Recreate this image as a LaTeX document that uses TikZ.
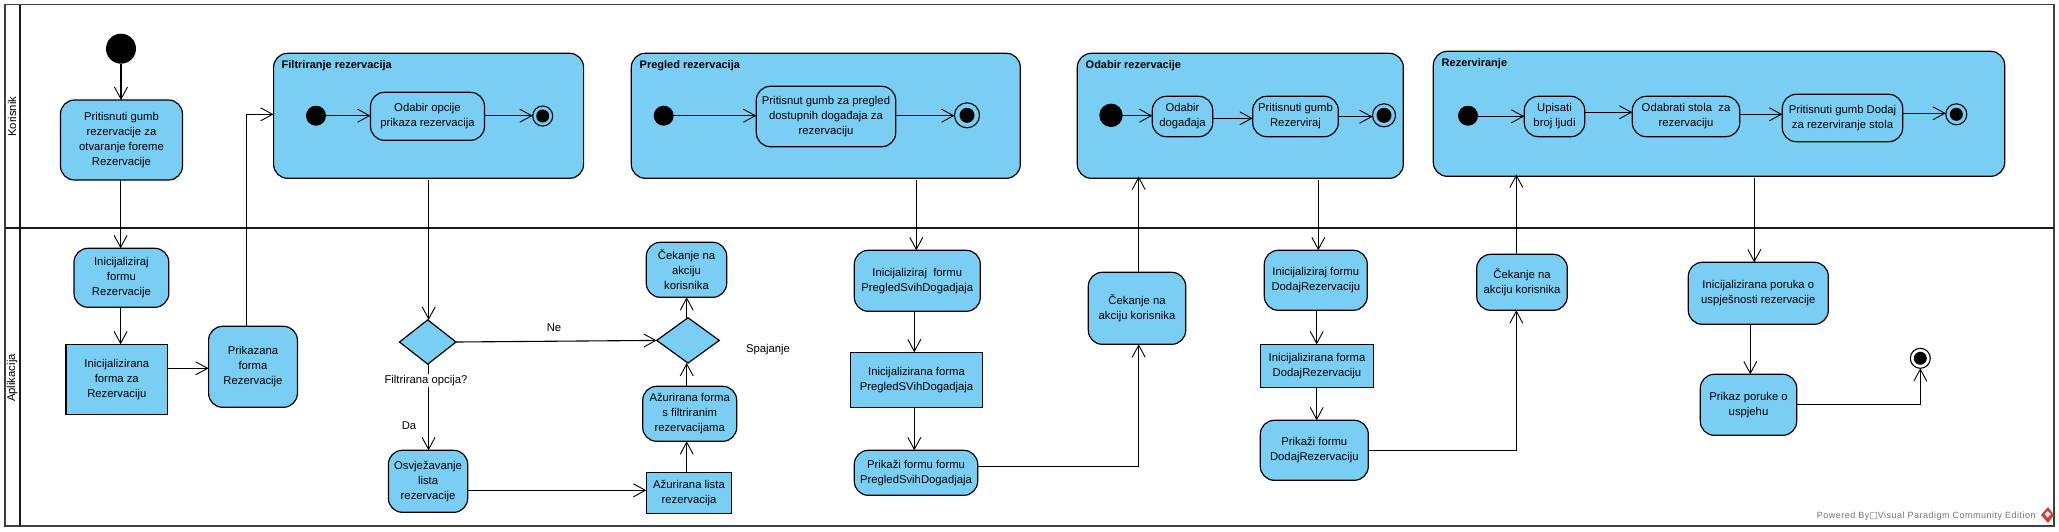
\documentclass[tikz,border=0pt]{standalone}
\usepackage{fontspec}
\setmainfont{Liberation Sans}
\newfontfamily\boxglyph{DejaVu Sans}
\usetikzlibrary{arrows.meta,shapes.geometric,calc}
\definecolor{vpblue}{RGB}{122,206,244}
\definecolor{vpred}{RGB}{205,60,55}
\tikzset{
  lbl/.style={font=\fontsize{11.3}{15}\selectfont,align=center,inner sep=0pt,outer sep=0pt},
  actbox/.style={lbl,draw=black,fill=vpblue,line width=1.2pt,rounded corners=14pt},
  objbox/.style={lbl,draw=black,fill=vpblue,line width=1.2pt},
  groupbox/.style={draw=black,fill=vpblue,line width=1.2pt,rounded corners=14pt,inner sep=0pt,outer sep=0pt},
  grouptitle/.style={font=\fontsize{11}{14}\selectfont\bfseries,inner sep=0pt,outer sep=0pt,anchor=west},
  flow/.style={draw=black,line width=1.1pt,-{Straight Barb[length=12pt,width=13pt,line width=0.9pt]}},
  choice/.style={diamond,draw=black,fill=vpblue,line width=1.2pt,inner sep=0pt,outer sep=0pt,aspect=1.3},
  startdot/.style={circle,fill=black,inner sep=0pt,outer sep=0pt},
  endring/.style={circle,draw=black,line width=1.1pt,inner sep=0pt,outer sep=0pt},
  enddot/.style={circle,fill=black,inner sep=0pt,outer sep=0pt},
  lane/.style={lbl,rotate=90},
}
\newcommand\placebox[7]{\node[#1,minimum width={#5pt-#3pt},minimum height={#6pt-#4pt}] (#2) at ({(#3+#5)/2},{(#4+#6)/2}) {#7};}
\newcommand\placedot[4]{\node[startdot,minimum size={2*#4 pt}] (#1) at (#2,#3) {};}
\newcommand\placeend[5]{\node[endring,minimum size={2*#4 pt}] (#1) at (#2,#3) {};\node[enddot,minimum size={2*#5 pt}] (#1-in) at (#2,#3) {};}
\newcommand\flowdn[5]{\draw[flow] ([shift={(#2,#3)}]#1.south) -- ([shift={(#2,#5)}]#1.south |- #4.north);}
\newcommand\flowup[5]{\draw[flow] ([shift={(#2,#3)}]#1.north) -- ([shift={(#2,#5)}]#1.north |- #4.south);}
\newcommand\flowrt[3]{\draw[flow] ([shift={(0,#2)}]#1.east) -- ([shift={(0,#2)}]#1.east -| #3.west);}
\begin{document}
\begin{tikzpicture}[x=1pt,y=-1pt]
\path[use as bounding box,fill=white] (0,0) rectangle (2059,531);
% swimlanes
\draw[line width=1.6pt,draw=black!75] (5,4.5) rectangle (2054,526);
\draw[line width=2pt,draw=black!90] (5,228) -- (2054,228);
\draw[line width=2pt,draw=black!90] (20,4.5) -- (20,526);
\node[lane] (laneA) at (12.2,116.7) {Korisnik};
\node[lane] (laneB) at (12.2,378) {Aplikacija};
% group boxes
\placebox{groupbox}{gFilter}{273.6}{53.3}{583.6}{178.3}{}
\placebox{groupbox}{gPregled}{631.3}{53.3}{1020.3}{178.3}{}
\placebox{groupbox}{gOdabir}{1077.3}{53.3}{1403.3}{178.3}{}
\placebox{groupbox}{gRez}{1433.3}{51.3}{2004.7}{176.3}{}
\node[grouptitle] (tFilter) at (281.7,66) {Filtriranje rezervacija};
\node[grouptitle] (tPregled) at (639.7,66) {Pregled rezervacija};
\node[grouptitle] (tOdabir) at (1085.7,66) {Odabir rezervacije};
\node[grouptitle] (tRez) at (1441.7,64) {Rezerviranje};
% initial / final
\placedot{s0}{121}{48.7}{15}
\placedot{s1}{316}{115.7}{10}
\placeend{e1}{542.7}{116}{10}{6.5}
\placedot{s2}{663.7}{115.7}{10}
\placeend{e2}{967}{115.3}{12.5}{7.5}
\placedot{s3}{1111}{115.3}{11.7}
\placeend{e3}{1384}{115.3}{11.5}{7.5}
\placedot{s4}{1468}{115.7}{10}
\placeend{e4}{1956.3}{114.3}{10.5}{6.5}
\placeend{e5}{1920.3}{358.3}{10}{6.5}
% korisnik actions
\placebox{actbox}{a1}{60.5}{100}{182.5}{180}{Pritisnuti gumb\\rezervacije za\\otvaranje foreme\\Rezervacije}
\placebox{actbox}{f1}{370.5}{92.3}{484.5}{140.3}{Odabir opcije\\prikaza rezervacija}
\placebox{actbox}{p1}{756.3}{86.3}{895.7}{146.7}{Pritisnut gumb za pregled\\dostupnih događaja za\\rezervaciju}
\placebox{actbox}{o1}{1152.3}{96.3}{1212.7}{136.7}{Odabir\\događaja}
\placebox{actbox}{o2}{1252.7}{96.3}{1338.3}{136.7}{Pritisnuti gumb\\Rezerviraj}
\placebox{actbox}{r1}{1524.3}{96.3}{1584.7}{136.7}{Upisati\\broj ljudi}
\placebox{actbox}{r2}{1632.3}{96.3}{1739.7}{136.7}{Odabrati stola~ za\\rezervaciju}
\placebox{actbox}{r3}{1782.3}{94.3}{1902.7}{141.7}{Pritisnuti gumb Dodaj\\za rezerviranje stola}
% aplikacija
\placebox{actbox}{b1}{74}{248.3}{168.8}{307.3}{Inicijaliziraj\\formu\\Rezervacije}
\placebox{objbox}{b2}{66}{344.3}{167.6}{414.3}{Inicijalizirana\\forma za\\Rezervaciju}
\placebox{actbox}{b3}{208.6}{326.3}{297.4}{407.3}{Prikazana\\forma\\Rezervacije}
\node[choice,minimum width=56.5pt,minimum height=44.3pt] (d1) at (427.75,342) {};
\placebox{actbox}{b4}{388.4}{450.3}{467.7}{512.3}{Osvježavanje\\lista\\rezervacije}
\placebox{objbox}{b5}{646.3}{472.3}{731.7}{513.3}{Ažurirana lista\\rezervacija}
\placebox{actbox}{b6}{642.7}{386.3}{736.7}{441.3}{Ažurirana forma\\s filtriranim\\rezervacijama}
\node[choice,minimum width=62.6pt,minimum height=45.3pt] (d2) at (688,340.4) {};
\placebox{actbox}{b7}{646.3}{242.3}{726.7}{297.3}{Čekanje na\\akciju\\korisnika}
\placebox{actbox}{c1}{854.3}{250.3}{980.3}{311.3}{Inicijaliziraj~ formu\\PregledSvihDogadjaja}
\placebox{objbox}{c2}{850.3}{352.3}{982.7}{407.3}{Inicijalizirana forma\\PregledSVihDogadjaja}
\placebox{actbox}{c3}{854.3}{450.3}{977.7}{495.3}{Prikaži formu formu\\PregledSvihDogadjaja}
\placebox{actbox}{c4}{1088.3}{272.3}{1185.7}{344.3}{Čekanje na\\akciju korisnika}
\placebox{actbox}{g1}{1264.3}{250.3}{1367.3}{310.3}{Inicijaliziraj formu\\DodajRezervaciju}
\placebox{objbox}{g2}{1260.3}{344.3}{1373.7}{387.3}{Inicijalizirana forma\\DodajRezervaciju}
\placebox{actbox}{g3}{1260.3}{420.3}{1368.3}{480.3}{Prikaži formu\\DodajRezervaciju}
\placebox{actbox}{g4}{1476.7}{254.3}{1567.3}{310.3}{Čekanje na\\akciju korisnika}
\placebox{actbox}{h1}{1688.3}{262.3}{1828.3}{324.3}{Inicijalizirana poruka o\\uspješnosti rezervacije}
\placebox{actbox}{h2}{1700.3}{374.3}{1796.7}{435.3}{Prikaz poruke o\\uspjehu}
% connectors
\flowdn{s0}{0}{0}{a1}{0}
\flowdn{a1}{-0.9}{0}{b1}{0}
\flowdn{b1}{-0.8}{0}{b2}{0}
\flowrt{b2}{-11}{b3}
\draw[flow] ([shift={(-6.5,0)}]b3.north) |- ([shift={(0,-1.5)}]gFilter.west);
\flowrt{s1}{0}{f1}
\flowrt{f1}{-0.6}{e1}
\flowdn{gFilter}{0.1}{1.7}{d1}{0}
\draw[flow] (d1.east) -- (d2.west);
\flowdn{d1}{0.8}{0}{b4}{0}
\flowrt{b4}{9}{b5}
\flowup{b5}{-2.3}{0}{b6}{0}
\flowup{b6}{-3}{0}{d2}{0}
\flowup{d2}{-1.3}{0}{b7}{0}
\flowrt{s2}{0}{p1}
\flowrt{p1}{-0.8}{e2}
\flowdn{gPregled}{90.5}{1.7}{c1}{0}
\flowdn{c1}{-3}{0}{c2}{0}
\flowdn{c2}{-2.2}{0}{c3}{0}
\draw[flow] ([shift={(0,-6.5)}]c3.east) -| ([shift={(1.7,0)}]c4.south);
\flowup{c4}{1.7}{0}{gOdabir}{-1.7}
\flowrt{s3}{0.4}{o1}
\flowrt{o1}{1.8}{o2}
\flowrt{o2}{0.2}{e3}
\flowdn{gOdabir}{78}{1.7}{g1}{0}
\flowdn{g1}{0.9}{0}{g2}{0}
\flowdn{g2}{-0.3}{0}{g3}{0}
\draw[flow] (g3.east) -| ([shift={(-5.7,0)}]g4.south);
\flowup{g4}{-5.7}{0}{gRez}{-1.7}
\flowrt{s4}{0.6}{r1}
\flowrt{r1}{-4.2}{r2}
\flowrt{r2}{-2.2}{r3}
\flowrt{r3}{-4.7}{e4}
\flowdn{gRez}{35.3}{1.7}{h1}{0}
\flowdn{h1}{-8}{0}{h2}{0}
\draw[flow] ([shift={(0,-0.5)}]h2.east) -| (e5.south);
% edge labels
\node[lbl,fill=white,inner ysep=1pt] (ldec) at (426,380.3) {Filtrirana opcija?};
\node[lbl] (lda) at (409,425.3) {Da};
\node[lbl] (lne) at (554,328) {Ne};
\node[lbl] (lmerge) at (768,350) {Spajanje};
% footer
\node[anchor=west,inner sep=0pt,text=black!55,font=\fontsize{9}{10}\selectfont\addfontfeature{LetterSpace=5.5}] (foot) at (1816.7,515.7) {Powered By{\boxglyph\fontsize{9}{10}\selectfont □}Visual Paradigm Community Edition};
\fill[vpred] (2048,507) -- (2054,515) -- (2048,523) -- (2041,515) -- cycle;
\fill[white!85!vpred] (2047.5,511) -- (2051,514) -- (2047.5,517.5) -- (2044.5,514) -- cycle;
\end{tikzpicture}
\end{document}
